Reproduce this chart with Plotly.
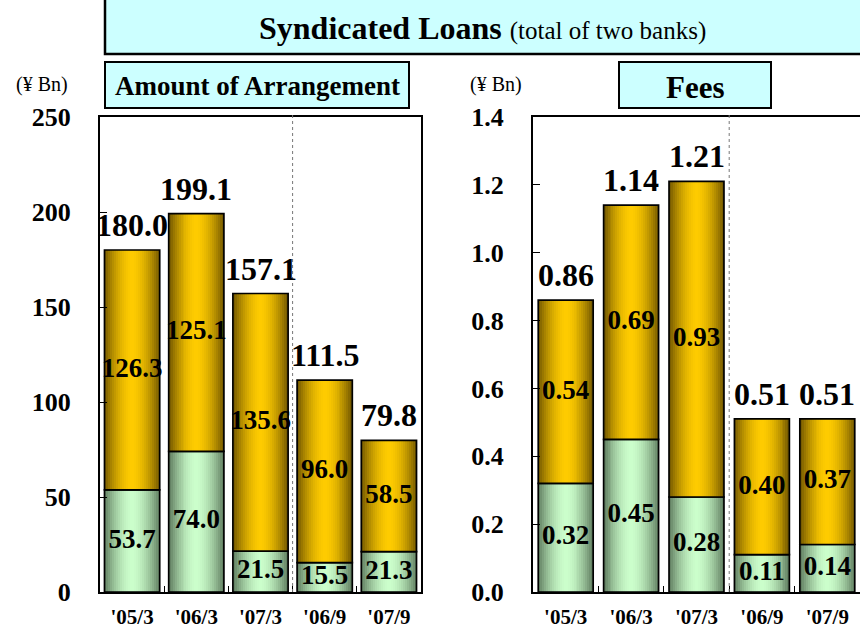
import plotly.graph_objects as go

# ---- data ----
periods = ["'05/3", "'06/3", "'07/3", "'06/9", "'07/9"]
amount_lower = [53.7, 74.0, 21.5, 15.5, 21.3]
amount_upper = [126.3, 125.1, 135.6, 96.0, 58.5]
amount_total = [180.0, 199.1, 157.1, 111.5, 79.8]
fees_lower = [0.32, 0.45, 0.28, 0.11, 0.14]
fees_upper = [0.54, 0.69, 0.93, 0.40, 0.37]
fees_total = [0.86, 1.14, 1.21, 0.51, 0.51]
amount_ticks = [0, 50, 100, 150, 200, 250]
fees_ticks = [0.0, 0.2, 0.4, 0.6, 0.8, 1.0, 1.2, 1.4]

FONT = "Liberation Serif"
GOLD_C, GOLD_E = (255, 204, 0), (120, 92, 0)
GREEN_C, GREEN_E = (204, 255, 204), (100, 130, 100)
N_LAYERS = 14

W = 860
H = 632


def px(x):
    return x / W


def pxd(x):
    return min(1.0, max(0.0, x / W))


def py(y):
    return 1 - y / H


def lerp(c, e, t):
    return "rgb(%d,%d,%d)" % tuple(round(c[i] + (e[i] - c[i]) * t) for i in range(3))


fig = go.Figure()
annotations = []


def add_stack(xa, ya, lower, upper, total, bw, fmt):
    for vals, base, cc, ce in [(lower, [0] * len(lower), GREEN_C, GREEN_E),
                               (upper, lower, GOLD_C, GOLD_E)]:
        for k in range(N_LAYERS):
            r = 1 - k / N_LAYERS
            fig.add_trace(go.Bar(
                x=periods, y=vals, base=base, width=bw * r,
                marker=dict(color=lerp(cc, ce, r ** 1.8), line=dict(width=0)),
                xaxis=xa, yaxis=ya, showlegend=False, hoverinfo="skip"))
        fig.add_trace(go.Bar(
            x=periods, y=vals, base=base, width=bw,
            marker=dict(color="rgba(0,0,0,0)", line=dict(color="black", width=1.7)),
            xaxis=xa, yaxis=ya, showlegend=False, hoverinfo="skip"))
    seg_font = dict(family=FONT, size=27, color="black", weight="bold")
    fig.add_trace(go.Scatter(
        x=periods, y=[v / 2 for v in lower], mode="text",
        text=[fmt.format(v) for v in lower], textposition="middle center",
        textfont=seg_font, xaxis=xa, yaxis=ya, showlegend=False,
        cliponaxis=False, hoverinfo="skip"))
    fig.add_trace(go.Scatter(
        x=periods, y=[l + u / 2 for l, u in zip(lower, upper)], mode="text",
        text=[fmt.format(v) for v in upper], textposition="middle center",
        textfont=seg_font, xaxis=xa, yaxis=ya, showlegend=False,
        cliponaxis=False, hoverinfo="skip"))
    for p, t in zip(periods, total):
        annotations.append(dict(
            x=p, y=t, xref=xa, yref=ya, text=fmt.format(t), showarrow=False,
            xanchor="center", yanchor="bottom", yshift=5,
            font=dict(family=FONT, size=32, color="black", weight="bold")))


add_stack("x", "y", amount_lower, amount_upper, amount_total, 0.86, "{:.1f}")
add_stack("x2", "y2", fees_lower, fees_upper, fees_total, 0.84, "{:.2f}")

ydom = [py(592), py(117)]
axis_common = dict(showgrid=False, zeroline=False, showline=True, linecolor="black",
                   linewidth=2, automargin=False, fixedrange=True)
xtickfont = dict(family=FONT, size=21, color="black", weight="bold")
ytickfont = dict(family=FONT, size=26, color="black", weight="bold")
fig.update_layout(
    width=W, height=H, margin=dict(l=0, r=0, t=0, b=0, autoexpand=False),
    paper_bgcolor="white", plot_bgcolor="white",
    barmode="overlay", bargap=0, hovermode=False,
    font=dict(family=FONT, color="black"),
    xaxis=dict(domain=[pxd(100), pxd(421)], type="category", mirror=True,
               ticks="inside", ticklen=6, tickson="boundaries", tickcolor="black",
               tickfont=xtickfont, ticklabelstandoff=5,
               range=[-0.5, 4.5], **axis_common),
    yaxis=dict(domain=ydom, range=[0, 250], tickvals=amount_ticks, mirror=True,
               ticks="inside", ticklen=7, tickcolor="black",
               tickfont=ytickfont, ticklabelstandoff=22, **axis_common),
    xaxis2=dict(domain=[pxd(533), pxd(861)], type="category", mirror=True,
                ticks="inside", ticklen=6, tickson="boundaries", tickcolor="black",
                tickfont=xtickfont, ticklabelstandoff=5,
                range=[-0.5, 4.5], anchor="y2", **axis_common),
    yaxis2=dict(domain=ydom, range=[0, 1.4], tickvals=fees_ticks, tickformat=".1f",
                mirror=False, ticks="inside", ticklen=7, tickcolor="black",
                tickfont=ytickfont, ticklabelstandoff=22, anchor="x2", **axis_common),
)

shapes = [
    dict(type="rect", xref="paper", yref="paper", x0=px(105), x1=px(875), y0=py(54), y1=py(-6),
         fillcolor="#CCFFFF", line=dict(color="black", width=2.5), layer="below"),
    dict(type="rect", xref="paper", yref="paper", x0=px(105), x1=px(409), y0=py(108), y1=py(62),
         fillcolor="#CCFFFF", line=dict(color="black", width=2), layer="below"),
    dict(type="rect", xref="paper", yref="paper", x0=px(619), x1=px(771), y0=py(108), y1=py(62),
         fillcolor="#CCFFFF", line=dict(color="black", width=2), layer="below"),
    dict(type="line", xref="x", yref="paper", x0=2.5, x1=2.5, y0=ydom[0], y1=py(113),
         line=dict(color="#777777", width=1, dash="dot")),
    dict(type="line", xref="x2", yref="paper", x0=2.5, x1=2.5, y0=ydom[0], y1=py(113),
         line=dict(color="#777777", width=1, dash="dot")),
]
fig.update_layout(shapes=shapes)

paper_ann = [
    dict(text="<b>Syndicated Loans</b> <span style='font-size:25px'>(total of two banks)</span>",
         x=px(483), y=py(28), font=dict(family=FONT, size=32, color="black")),
    dict(text="<b>Amount of Arrangement</b>", x=px(257), y=py(86),
         font=dict(family=FONT, size=27, color="black")),
    dict(text="<b>Fees</b>", x=px(695), y=py(87),
         font=dict(family=FONT, size=31, color="black")),
    dict(text="(¥ Bn)", x=px(42), y=py(84), font=dict(family=FONT, size=20, color="black")),
    dict(text="(¥ Bn)", x=px(496), y=py(84), font=dict(family=FONT, size=20, color="black")),
]
for a in paper_ann:
    a.update(xref="paper", yref="paper", showarrow=False, xanchor="center", yanchor="middle")
fig.update_layout(annotations=annotations + paper_ann)

fig.write_html(
    "out.html",
    config={"displayModeBar": False, "staticPlot": True},
    post_script="document.body.style.margin='0';document.body.style.overflow='hidden';",
)
